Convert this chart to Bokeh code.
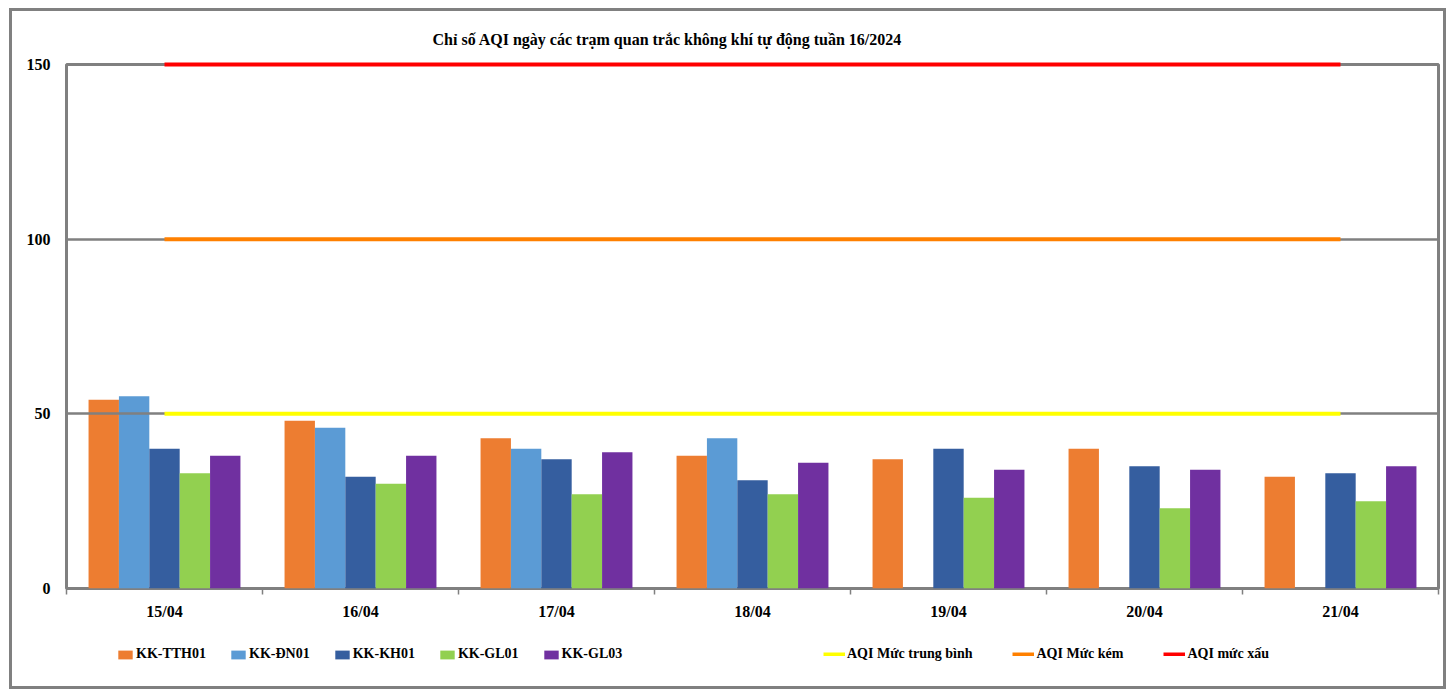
import math
from bokeh.plotting import figure
from bokeh.layouts import column
from bokeh.models import (ColumnDataSource, Range1d, LinearAxis, FixedTicker, Legend, LegendItem)
from bokeh.transform import dodge
from bokeh.embed import file_html
from bokeh.resources import INLINE

days = ["15/04", "16/04", "17/04", "18/04", "19/04", "20/04", "21/04"]
stations = ["KK-TTH01", "KK-ĐN01", "KK-KH01", "KK-GL01", "KK-GL03"]
tth01 = [54, 48, 43, 38, 37, 40, 32]
dn01 = [55, 46, 40, 43, math.nan, math.nan, math.nan]
kh01 = [40, 32, 37, 31, 40, 35, 33]
gl01 = [33, 30, 27, 27, 26, 23, 25]
gl03 = [38, 38, 39, 36, 34, 34, 35]
aqi_trung_binh = [50, 50, 50, 50, 50, 50, 50]
aqi_kem = [100, 100, 100, 100, 100, 100, 100]
aqi_xau = [150, 150, 150, 150, 150, 150, 150]
y_ticks = [0, 50, 100, 150]
title_text = "Chỉ số AQI ngày các trạm quan trắc không khí tự động tuần 16/2024"
line_names = ["AQI Mức trung bình", "AQI Mức kém", "AQI mức xấu"]

bar_colors = ["#ED7D31", "#5B9BD5", "#355E9F", "#92D050", "#7030A0"]
line_colors = ["#FFFF00", "#FF8000", "#FF0000"]
FONT = "Liberation Serif"
GRAY = "#808080"
W = 1431

# category slots: day i occupies [i, i+1] on the x scale
centers = [i + 0.5 for i in range(len(days))]
edges = list(range(len(days) + 1))

src = ColumnDataSource(dict(x=centers, day=days, tth01=tth01, dn01=dn01, kh01=kh01, gl01=gl01,
                            gl03=gl03, tb=aqi_trung_binh, kem=aqi_kem, xau=aqi_xau))

p = figure(x_range=Range1d(0, len(days)), y_range=Range1d(0, 150),
           width=W, height=620, output_backend="svg", toolbar_location=None,
           x_axis_location=None, y_axis_location="left",
           min_border_left=54, min_border_right=5, min_border_top=49, min_border_bottom=43,
           title=title_text)
p.background_fill_color = "white"
p.border_fill_color = "white"
p.outline_line_color = GRAY
p.outline_line_width = 3

p.title.text_font = FONT
p.title.text_font_style = "bold"
p.title.text_font_size = "16px"
p.title.text_color = "black"
p.title.align = "left"
p.title.offset = 366
p.title.standoff = 34

# y axis
p.yaxis.ticker = FixedTicker(ticks=y_ticks)
p.yaxis.axis_line_color = None
p.yaxis.major_tick_line_color = None
p.yaxis.minor_tick_line_color = None
p.yaxis.major_label_standoff = 10
p.yaxis.major_label_text_font = FONT
p.yaxis.major_label_text_font_style = "bold"
p.yaxis.major_label_text_font_size = "16px"
p.yaxis.major_label_text_color = "black"
p.ygrid.ticker = FixedTicker(ticks=y_ticks)
p.ygrid.grid_line_color = GRAY
p.ygrid.grid_line_width = 2.5
p.ygrid.level = "annotation"
p.xgrid.grid_line_color = None

# x tick marks at category boundaries
tick_axis = LinearAxis(ticker=FixedTicker(ticks=edges),
                       major_label_overrides={e: "" for e in edges},
                       major_tick_out=6, major_tick_in=0, axis_line_color=None,
                       major_tick_line_color=GRAY, major_tick_line_width=1.5,
                       minor_tick_line_color=None, major_label_text_font_size="1px",
                       major_label_standoff=0)
p.add_layout(tick_axis, "below")
cat_axis = LinearAxis(ticker=FixedTicker(ticks=centers),
                      major_label_overrides={c: d for c, d in zip(centers, days)},
                      major_tick_line_color=None, minor_tick_line_color=None, axis_line_color=None,
                      major_label_text_font=FONT, major_label_text_font_style="bold",
                      major_label_text_font_size="16px", major_label_text_color="black",
                      major_label_standoff=2)
p.add_layout(cat_axis, "below")

cols = ["tth01", "dn01", "kh01", "gl01", "gl03"]
bw = 0.155
offsets = [-2 * bw, -bw, 0, bw, 2 * bw]
for col, off, color in zip(cols, offsets, bar_colors):
    p.vbar(x=dodge("x", off), top=col, width=bw, source=src, fill_color=color, line_color=None)

for col, color in zip(["tb", "kem", "xau"], line_colors):
    p.line(x="x", y=col, source=src, line_width=4, line_color=color, level="overlay")

# legend strip below the chart (renderers carry only the series styles, no data)
lg = figure(x_range=Range1d(0, 1), y_range=Range1d(0, 1), width=W, height=55,
            output_backend="svg", toolbar_location=None, x_axis_location=None,
            y_axis_location=None, min_border=0)
lg.outline_line_color = None
lg.background_fill_color = "white"
lg.border_fill_color = "white"
lg.grid.visible = False

bar_items = []
for name, color in zip(stations, bar_colors):
    r = lg.vbar(x=[math.nan], top=[math.nan], width=bw, fill_color=color, line_color=None)
    bar_items.append(LegendItem(label=name, renderers=[r]))
line_items = []
for name, color in zip(line_names, line_colors):
    r = lg.line(x=[math.nan, math.nan], y=[math.nan, math.nan], line_width=4, line_color=color)
    line_items.append(LegendItem(label=name, renderers=[r]))

def mk_legend(items, loc, gw, gh, spacing):
    return Legend(items=items, location=loc, orientation="horizontal",
                  glyph_width=gw, glyph_height=gh, label_standoff=2, spacing=spacing,
                  padding=0, margin=0, border_line_color=None, background_fill_alpha=0,
                  label_text_font=FONT, label_text_font_style="bold", label_text_font_size="14px",
                  label_height=20, label_text_color="black")

lg.add_layout(mk_legend(bar_items, (50, 22), 18, 11, 23), "center")
lg.add_layout(mk_legend(line_items, (757, 22), 22, 4, 40), "center")

layout = column(p, lg, spacing=0)
layout.styles = {"border": "3px solid #808080", "margin": "8px 0 0 9px", "background": "white"}

open("out.html", "w").write(file_html(layout, INLINE))
